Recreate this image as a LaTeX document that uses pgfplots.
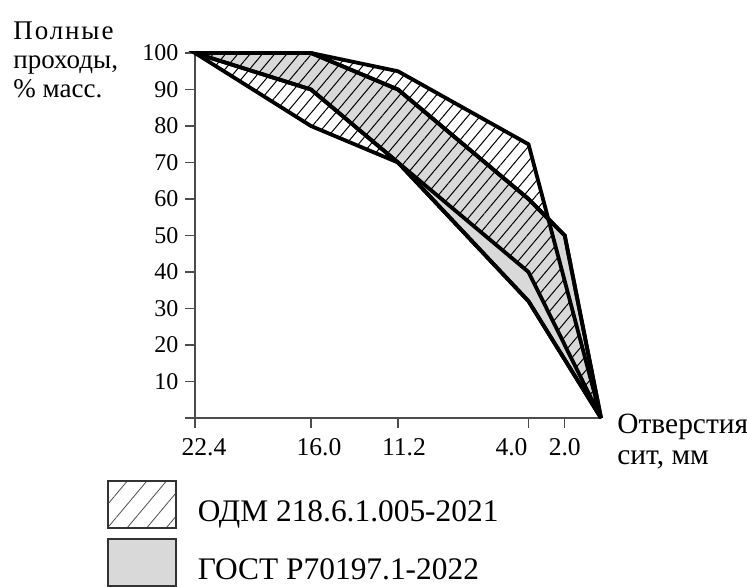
\documentclass[border=0pt]{standalone}
\usepackage{fontspec}
\setmainfont{Liberation Serif}
\usepackage{pgfplots}
\pgfplotsset{compat=1.18}
\usetikzlibrary{patterns.meta}
\definecolor{gostgray}{HTML}{D9D9D9}

\begin{document}
\begin{tikzpicture}
\useasboundingbox (-97.5pt,-84pt) rectangle (276pt,209pt);
\begin{axis}[
  width=203pt, height=182.5pt, scale only axis,
  xmin=0, xmax=22.4, ymin=0, ymax=100, x dir=reverse,
  axis x line=bottom, axis y line=left,
  axis line style={-, black!70, line width=0.7pt},
  xtick={22.4,16,11.2,4,2},
  xticklabels={{\kern9pt 22.4},{\kern8pt 16.0},{\kern6pt 11.2},{4.0\kern17pt},{2.0}},
  ytick={10,20,...,100},
  extra y ticks={0}, extra y tick labels={},
  tick align=outside,
  major tick length=4.8pt,
  tick style={black!70, line width=0.7pt},
  /pgf/number format/assume math mode=true,
  yticklabel style={font=\fontsize{12}{14}\selectfont},
  xticklabel style={font=\fontsize{12.8}{14}\selectfont, yshift=-2pt},
  clip=false,
  reverse legend,
  legend style={at={(axis description cs:-0.2167,-0.1699)}, anchor=north west,
    draw=none, fill=none, inner sep=0pt, row sep=4.8pt, column sep=10.5pt,
    nodes={anchor=base west, inner sep=0pt, font=\fontsize{15.7}{17}\selectfont}},
]
% ГОСТ Р 70197.1-2022: верхняя и нижняя границы
\addplot[fill=gostgray, draw=black, line width=1.9pt, miter limit=4,
  legend image code/.code={\draw[fill=gostgray, draw=black!80, line width=0.7pt] (0pt,-3.5pt) rectangle (34pt,20pt);}]
  coordinates {(22.4,100) (16,100) (11.2,90) (4,60) (2,50) (0,0) (4,32) (11.2,70) (16,90)} -- cycle;
\addlegendentry{ГОСТ Р70197.1-2022}
% ОДМ 218.6.1.005-2021
\addplot[pattern={Lines[angle=50,distance=4.7pt,line width=0.5pt]}, draw=black, line width=1.9pt, miter limit=4,
  legend image code/.code={\draw[pattern={Lines[angle=50,distance=7.5pt,line width=0.4pt]}, pattern color=black!70, draw=black!80, line width=0.7pt] (0pt,-3.5pt) rectangle (34pt,20pt);}]
  coordinates {(22.4,100) (16,100) (11.2,95) (4,75) (0,0) (4,40) (11.2,70) (16,80)} -- cycle;
\addlegendentry{ОДМ 218.6.1.005-2021}
% контуры ГОСТ поверх штриховки
\addplot[draw=black, line width=1.9pt, miter limit=4, forget plot]
  coordinates {(22.4,100) (16,100) (11.2,90) (4,60) (2,50) (0,0) (4,32) (11.2,70) (16,90)} -- cycle;
\end{axis}
\node[anchor=north west, inner sep=0pt, align=left, font=\fontsize{13.5}{14.5}\selectfont]
  at (-91pt,198.5pt) {{\addfontfeature{LetterSpace=7}Полные}\\проходы,\\\% масс.};
\node[anchor=north west, inner sep=0pt, align=left, font=\fontsize{14.7}{15.5}\selectfont]
  at (211pt,2.2pt) {Отверстия\\сит, мм};
\end{tikzpicture}
\end{document}
